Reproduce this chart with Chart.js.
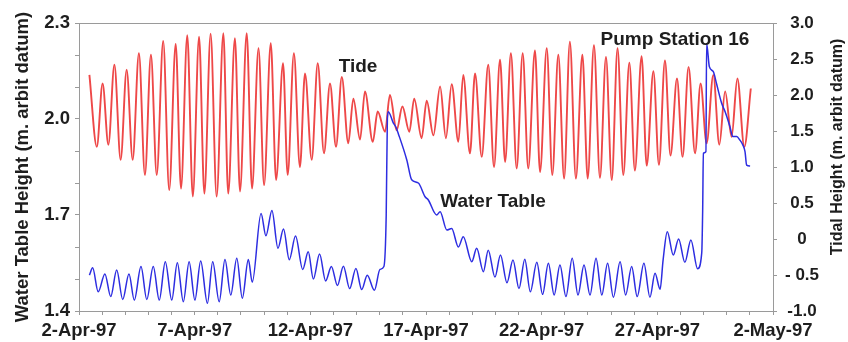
<!DOCTYPE html>
<html>
<head>
<meta charset="utf-8">
<script src="https://cdn.jsdelivr.net/npm/chart.js@4.4.0/dist/chart.umd.min.js"></script>
<style>
  html, body { margin: 0; padding: 0; background: #fff; }
  #wrap { width: 848px; height: 342px; }
</style>
</head>
<body>
<div id="wrap"><canvas id="chart" width="848" height="342"></canvas></div>
<script>
// Jours depuis le 2-Apr-97 (0 = 2 avril, 30 = 2 mai)
const xTickLabels = ['2-Apr-97', '7-Apr-97', '12-Apr-97', '17-Apr-97', '22-Apr-97', '27-Apr-97', '2-May-97'];
const rightTickLabels = { '-1': '-1.0', '-0.5': '- 0.5', '0': '0', '0.5': '0.5', '1': '1.0', '1.5': '1.5', '2': '2.0', '2.5': '2.5', '3': '3.0' };
const leftTickLabels = ['1.4', '1.7', '2.0', '2.3'];

// Tide (axe de droite) : pleines et basses mers
const tideDays = [
  0.45, 0.77, 1.02, 1.27, 1.53, 1.80, 2.06, 2.32, 2.59, 2.85,
  3.11, 3.36, 3.64, 3.90, 4.18, 4.41, 4.68, 4.92, 5.19, 5.42,
  5.69, 5.95, 6.24, 6.45, 6.74, 6.96, 7.25, 7.48, 7.76, 8.00,
  8.29, 8.52, 8.82, 9.02, 9.29, 9.55, 9.77, 10.06, 10.32, 10.59,
  10.85, 11.11, 11.36, 11.64, 11.86, 12.15, 12.36, 12.70, 12.91, 13.23,
  13.44, 13.73, 13.98, 14.28, 14.49, 14.81, 15.03, 15.32, 15.61, 15.86,
  16.11, 16.40, 16.61, 16.90, 17.12, 17.41, 17.69, 17.94, 18.20, 18.42,
  18.67, 18.92, 19.18, 19.42, 19.71, 19.93, 20.22, 20.46, 20.72, 20.97,
  21.22, 21.48, 21.76, 21.99, 22.26, 22.52, 22.78, 23.03, 23.28, 23.53,
  23.79, 24.03, 24.32, 24.54, 24.83, 25.07, 25.33, 25.57, 25.85, 26.09,
  26.35, 26.63, 26.87, 27.13, 27.42, 27.68, 27.93, 28.21, 28.46, 28.76, 29.04
];
const tideHeight = [
  2.28, 1.28, 2.16, 1.31, 2.42, 1.10, 2.35, 1.10, 2.58, 0.89,
  2.56, 0.89, 2.75, 0.68, 2.71, 0.70, 2.83, 0.59, 2.81, 0.63,
  2.85, 0.59, 2.86, 0.63, 2.79, 0.66, 2.86, 0.70, 2.65, 0.75,
  2.72, 0.82, 2.44, 0.89, 2.58, 1.00, 2.30, 1.10, 2.44, 1.19,
  2.16, 1.28, 2.25, 1.33, 1.95, 1.38, 2.05, 1.35, 1.77, 1.49,
  2.00, 1.51, 1.84, 1.49, 1.95, 1.40, 1.92, 1.44, 2.12, 1.40,
  2.15, 1.35, 2.28, 1.19, 2.30, 1.14, 2.42, 1.00, 2.49, 1.07,
  2.58, 0.98, 2.58, 0.98, 2.62, 0.93, 2.65, 0.89, 2.56, 0.84,
  2.74, 0.84, 2.56, 0.84, 2.69, 0.85, 2.53, 0.82, 2.65, 0.89,
  2.45, 0.95, 2.54, 1.02, 2.33, 1.03, 2.48, 1.16, 2.23, 1.14,
  2.39, 1.19, 2.16, 1.33, 2.28, 1.31, 2.05, 1.42, 2.23, 1.28, 2.09
];

// Water Table (axe de gauche)
const waterDays = [
  0.45, 0.59, 0.83, 1.12, 1.37, 1.63, 1.89, 2.16, 2.39, 2.68,
  2.93, 3.21, 3.47, 3.73, 4.01, 4.25, 4.51, 4.76, 5.01, 5.26,
  5.55, 5.78, 6.06, 6.31, 6.56, 6.82, 7.06, 7.32, 7.49, 7.87,
  8.08, 8.34, 8.60, 8.84, 9.09, 9.36, 9.67, 9.91, 10.13, 10.40,
  10.66, 10.91, 11.17, 11.43, 11.70, 11.97, 12.22, 12.46, 12.77, 13.01,
  13.18, 13.28, 13.33, 13.37, 13.59, 13.70, 13.80, 14.17, 14.38, 14.67,
  14.96, 15.10, 15.46, 15.61, 15.90, 16.11, 16.40, 16.61, 16.98, 17.19,
  17.48, 17.69, 17.98, 18.22, 18.50, 18.76, 19.02, 19.27, 19.51, 19.79,
  20.04, 20.29, 20.54, 20.79, 21.05, 21.32, 21.57, 21.83, 22.09, 22.35,
  22.60, 22.85, 23.10, 23.39, 23.63, 23.89, 24.13, 24.42, 24.68, 24.90,
  25.12, 25.25, 25.43, 25.69, 25.92, 26.19, 26.45, 26.74, 26.92, 26.96,
  26.99, 27.10, 27.13, 27.25, 27.42, 27.56, 27.78, 27.93, 28.14, 28.26,
  28.43, 28.57, 28.69, 28.79, 28.86, 29.01
];
const waterLevel = [
  1.512, 1.535, 1.46, 1.516, 1.445, 1.528, 1.436, 1.516, 1.434, 1.539,
  1.436, 1.539, 1.434, 1.554, 1.434, 1.551, 1.429, 1.554, 1.434, 1.556,
  1.424, 1.554, 1.429, 1.561, 1.45, 1.565, 1.44, 1.561, 1.49, 1.705,
  1.635, 1.714, 1.596, 1.656, 1.56, 1.634, 1.53, 1.585, 1.50, 1.578,
  1.494, 1.539, 1.48, 1.54, 1.47, 1.533, 1.467, 1.512, 1.465, 1.53,
  1.539, 1.70, 2.0, 2.023, 1.987, 1.975, 1.955, 1.872, 1.81, 1.80,
  1.757, 1.747, 1.70, 1.71, 1.653, 1.658, 1.60, 1.632, 1.554, 1.596,
  1.523, 1.59, 1.506, 1.575, 1.488, 1.559, 1.47, 1.562, 1.46, 1.552,
  1.452, 1.549, 1.45, 1.544, 1.445, 1.565, 1.45, 1.544, 1.45, 1.565,
  1.45, 1.549, 1.443, 1.554, 1.45, 1.539, 1.445, 1.549, 1.443, 1.518,
  1.468, 1.56, 1.648, 1.575, 1.625, 1.552, 1.622, 1.532, 1.582, 1.715,
  1.893, 1.898, 2.236, 2.163, 2.148, 2.11, 2.049, 2.023, 1.976, 1.945,
  1.945, 1.934, 1.92, 1.898, 1.856, 1.853
];

const FONT = "'Liberation Sans', Arial, sans-serif";
const TEXT = '#1e1e1e';
const FRAME = '#9a9a9a';

// Cadre gris autour de la zone de tracé + textes (titres d'axes, étiquettes des séries)
const decorations = {
  id: 'decorations',
  afterDraw(chart) {
    const ctx = chart.ctx;
    const a = chart.chartArea;
    ctx.save();
    ctx.strokeStyle = FRAME;
    ctx.lineWidth = 1;
    ctx.strokeRect(Math.round(a.left) + 0.5, Math.round(a.top) + 0.5, Math.round(a.right - a.left), Math.round(a.bottom - a.top));

    ctx.fillStyle = TEXT;
    ctx.textAlign = 'center';
    ctx.textBaseline = 'middle';
    ctx.font = 'bold 19px ' + FONT;
    ctx.fillText('Tide', 358, 67);
    ctx.fillText('Water Table', 493, 202);
    ctx.fillText('Pump Station 16', 675, 40);

    ctx.font = 'bold 18.5px ' + FONT;
    ctx.translate(23, 167);
    ctx.rotate(-Math.PI / 2);
    ctx.fillText('Water Table Height (m. arbit datum)', 0, 0);
    ctx.restore();

    ctx.save();
    ctx.fillStyle = TEXT;
    ctx.textAlign = 'center';
    ctx.textBaseline = 'middle';
    ctx.font = 'bold 16px ' + FONT;
    ctx.translate(838, 147);
    ctx.rotate(-Math.PI / 2);
    ctx.fillText('Tidal Height (m. arbit datum)', 0, 0);
    ctx.restore();
  }
};

new Chart(document.getElementById('chart'), {
  type: 'line',
  data: {
    datasets: [
      {
        label: 'Water Table',
        data: waterDays.map((d, i) => ({ x: d, y: waterLevel[i] })),
        yAxisID: 'y',
        borderColor: 'rgb(45,45,225)',
        borderWidth: 1.5,
        pointRadius: 0,
        cubicInterpolationMode: 'monotone',
        order: 0
      },
      {
        label: 'Tide',
        data: tideDays.map((d, i) => ({ x: d, y: tideHeight[i] })),
        yAxisID: 'yR',
        borderColor: 'rgb(238,72,72)',
        borderWidth: 1.9,
        pointRadius: 0,
        cubicInterpolationMode: 'monotone',
        order: 1
      }
    ]
  },
  options: {
    responsive: false,
    animation: false,
    events: [],
    layout: { padding: { top: 23, left: 0, right: 0, bottom: 0 } },
    plugins: { legend: { display: false }, tooltip: { enabled: false } },
    scales: {
      x: {
        type: 'linear',
        min: 0,
        max: 30,
        afterFit(scale) { scale.height = 31; },
        border: { color: FRAME },
        grid: { drawOnChartArea: false, drawTicks: true, tickLength: 4, color: FRAME },
        ticks: {
          stepSize: 1,
          autoSkip: false,
          maxRotation: 0,
          padding: 5,
          color: TEXT,
          font: { family: FONT, size: 18.5, weight: 'bold' },
          callback: v => (v % 5 === 0 ? xTickLabels[v / 5] : '')
        }
      },
      y: {
        position: 'left',
        min: 1.4,
        max: 2.3,
        afterFit(scale) { scale.width = 79; },
        border: { color: FRAME },
        grid: { drawOnChartArea: false, drawTicks: true, tickLength: 4, color: FRAME },
        ticks: {
          stepSize: 0.1,
          autoSkip: false,
          padding: 5,
          color: TEXT,
          font: { family: FONT, size: 18.5, weight: 'bold' },
          callback: v => {
            const s = v.toFixed(1);
            return leftTickLabels.includes(s) ? s : '';
          }
        }
      },
      yR: {
        position: 'right',
        min: -1,
        max: 3,
        afterFit(scale) { scale.width = 75; },
        border: { color: FRAME },
        grid: { drawOnChartArea: false, drawTicks: true, tickLength: 4, color: FRAME },
        ticks: {
          stepSize: 0.5,
          autoSkip: false,
          padding: 8,
          crossAlign: 'center',
          color: TEXT,
          font: { family: FONT, size: 17, weight: 'bold' },
          callback: v => rightTickLabels[String(v)]
        }
      }
    }
  },
  plugins: [decorations]
});
</script>
</body>
</html>
